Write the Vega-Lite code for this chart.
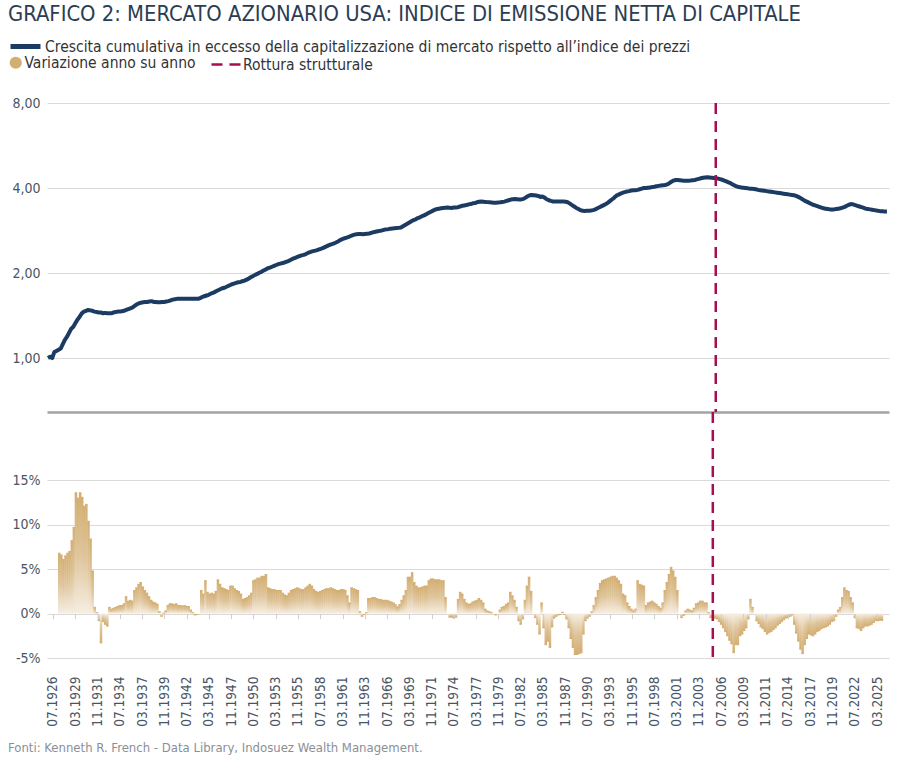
{
  "$schema": "https://vega.github.io/schema/vega-lite/v6.json",
  "background": "white",
  "padding": {"left": 8, "top": 4, "right": 11, "bottom": 6},
  "bounds": "flush",
  "spacing": 0,
  "title": {
    "text": "GRAFICO 2: MERCATO AZIONARIO USA: INDICE DI EMISSIONE NETTA DI CAPITALE",
    "anchor": "start",
    "frame": "bounds",
    "fontSize": 21.8,
    "fontWeight": "normal",
    "color": "#2b3d52",
    "offset": 3
  },
  "config": {
    "view": {"stroke": null},
    "font": "DejaVu Sans Condensed, Liberation Sans Narrow, sans-serif",
    "axis": {"labelColor": "#4a5563", "labelFontSize": 14},
    "legend": {"labelFontSize": 15.5, "labelColor": "#333333", "labelLimit": 0, "labelOffset": 3, "padding": 0}
  },
  "datasets": {
    "serie": [
      {"d":"1926-07","c":1.00},{"d":"1926-10","c":1.01},{"d":"1927-01","c":1.00},
      {"d":"1927-04","c":1.05,"v":6.8},{"d":"1927-07","c":1.06,"v":6.6},{"d":"1927-10","c":1.07,"v":6.1},
      {"d":"1928-01","c":1.08,"v":6.5},{"d":"1928-04","c":1.12,"v":6.8},{"d":"1928-07","c":1.16,"v":7.0},{"d":"1928-10","c":1.19,"v":8.2},
      {"d":"1929-01","c":1.23,"v":9.7},{"d":"1929-04","c":1.27,"v":13.6},{"d":"1929-07","c":1.29,"v":13.0},{"d":"1929-10","c":1.33,"v":13.6},
      {"d":"1930-01","c":1.37,"v":13.1},{"d":"1930-04","c":1.40,"v":12.1},{"d":"1930-07","c":1.44,"v":12.3},{"d":"1930-10","c":1.46,"v":10.4},
      {"d":"1931-01","c":1.47,"v":8.4},{"d":"1931-04","c":1.48,"v":4.8},{"d":"1931-07","c":1.475,"v":0.7},{"d":"1931-10","c":1.47,"v":0.1},
      {"d":"1932-01","c":1.46,"v":-0.8},{"d":"1932-04","c":1.455,"v":-3.3},{"d":"1932-07","c":1.45,"v":-0.9},{"d":"1932-10","c":1.45,"v":-1.2},
      {"d":"1933-01","c":1.44,"v":-1.4},{"d":"1933-04","c":1.445,"v":0.7},{"d":"1933-07","c":1.44,"v":0.5},{"d":"1933-10","c":1.44,"v":0.6},
      {"d":"1934-01","c":1.44,"v":0.7},{"d":"1934-04","c":1.45,"v":0.8},{"d":"1934-07","c":1.455,"v":0.9},{"d":"1934-10","c":1.46,"v":0.9},
      {"d":"1935-01","c":1.46,"v":1.1},{"d":"1935-04","c":1.465,"v":1.9},{"d":"1935-07","c":1.47,"v":1.4},{"d":"1935-10","c":1.48,"v":1.5},
      {"d":"1936-01","c":1.49,"v":1.4},{"d":"1936-04","c":1.50,"v":2.6},{"d":"1936-07","c":1.51,"v":2.9},{"d":"1936-10","c":1.53,"v":3.3},
      {"d":"1937-01","c":1.55,"v":3.5},{"d":"1937-04","c":1.56,"v":3.0},{"d":"1937-07","c":1.57,"v":2.6},{"d":"1937-10","c":1.575,"v":2.3},
      {"d":"1938-01","c":1.58,"v":1.9},{"d":"1938-04","c":1.58,"v":1.5},{"d":"1938-07","c":1.585,"v":1.3},{"d":"1938-10","c":1.59,"v":1.2},
      {"d":"1939-01","c":1.58,"v":1.05},{"d":"1939-04","c":1.58,"v":0.2},{"d":"1939-07","c":1.575,"v":-0.3},{"d":"1939-10","c":1.575,"v":0.05},
      {"d":"1940-01","c":1.58,"v":0.3},{"d":"1940-04","c":1.58,"v":0.9},{"d":"1940-07","c":1.585,"v":1.1},{"d":"1940-10","c":1.59,"v":1.1},
      {"d":"1941-01","c":1.60,"v":1.0},{"d":"1941-04","c":1.61,"v":1.1},{"d":"1941-07","c":1.615,"v":0.9},{"d":"1941-10","c":1.62,"v":0.9},
      {"d":"1942-01","c":1.62,"v":0.85},{"d":"1942-04","c":1.62,"v":0.9},{"d":"1942-07","c":1.62,"v":0.8},{"d":"1942-10","c":1.62,"v":0.8},
      {"d":"1943-01","c":1.62,"v":0.4},{"d":"1943-04","c":1.62,"v":0.1},{"d":"1943-07","c":1.62,"v":-0.15},{"d":"1943-10","c":1.62,"v":-0.1},
      {"d":"1944-01","c":1.62,"v":0.0},{"d":"1944-04","c":1.62,"v":2.6},{"d":"1944-07","c":1.63,"v":2.2},{"d":"1944-10","c":1.645,"v":3.7},
      {"d":"1945-01","c":1.655,"v":2.4},{"d":"1945-04","c":1.665,"v":2.2},{"d":"1945-07","c":1.675,"v":2.3},{"d":"1945-10","c":1.69,"v":2.2},
      {"d":"1946-01","c":1.70,"v":2.5},{"d":"1946-04","c":1.715,"v":3.8},{"d":"1946-07","c":1.73,"v":3.3},{"d":"1946-10","c":1.745,"v":2.9},
      {"d":"1947-01","c":1.76,"v":2.8},{"d":"1947-04","c":1.77,"v":2.7},{"d":"1947-07","c":1.78,"v":2.6},{"d":"1947-10","c":1.795,"v":3.1},
      {"d":"1948-01","c":1.81,"v":3.1},{"d":"1948-04","c":1.825,"v":2.8},{"d":"1948-07","c":1.835,"v":2.6},{"d":"1948-10","c":1.845,"v":2.5},
      {"d":"1949-01","c":1.855,"v":2.2},{"d":"1949-04","c":1.86,"v":1.6},{"d":"1949-07","c":1.87,"v":1.7},{"d":"1949-10","c":1.88,"v":1.8},
      {"d":"1950-01","c":1.895,"v":2.0},{"d":"1950-04","c":1.91,"v":2.3},{"d":"1950-07","c":1.935,"v":3.7},{"d":"1950-10","c":1.95,"v":3.8},
      {"d":"1951-01","c":1.97,"v":4.0},{"d":"1951-04","c":1.985,"v":4.0},{"d":"1951-07","c":2.005,"v":4.2},{"d":"1951-10","c":2.02,"v":4.2},
      {"d":"1952-01","c":2.04,"v":4.4},{"d":"1952-04","c":2.06,"v":2.9},{"d":"1952-07","c":2.08,"v":2.8},{"d":"1952-10","c":2.09,"v":2.7},
      {"d":"1953-01","c":2.105,"v":2.7},{"d":"1953-04","c":2.12,"v":2.6},{"d":"1953-07","c":2.135,"v":2.6},{"d":"1953-10","c":2.15,"v":2.6},
      {"d":"1954-01","c":2.16,"v":2.3},{"d":"1954-04","c":2.17,"v":2.1},{"d":"1954-07","c":2.18,"v":2.0},{"d":"1954-10","c":2.195,"v":2.3},
      {"d":"1955-01","c":2.21,"v":2.6},{"d":"1955-04","c":2.23,"v":2.7},{"d":"1955-07","c":2.25,"v":2.8},{"d":"1955-10","c":2.265,"v":2.9},
      {"d":"1956-01","c":2.28,"v":2.8},{"d":"1956-04","c":2.295,"v":2.7},{"d":"1956-07","c":2.31,"v":2.7},{"d":"1956-10","c":2.32,"v":2.9},
      {"d":"1957-01","c":2.335,"v":3.1},{"d":"1957-04","c":2.355,"v":3.3},{"d":"1957-07","c":2.37,"v":3.1},{"d":"1957-10","c":2.385,"v":2.7},
      {"d":"1958-01","c":2.395,"v":2.5},{"d":"1958-04","c":2.405,"v":2.4},{"d":"1958-07","c":2.42,"v":2.5},{"d":"1958-10","c":2.435,"v":2.6},
      {"d":"1959-01","c":2.45,"v":2.7},{"d":"1959-04","c":2.47,"v":2.8},{"d":"1959-07","c":2.49,"v":2.8},{"d":"1959-10","c":2.51,"v":2.9},
      {"d":"1960-01","c":2.525,"v":2.8},{"d":"1960-04","c":2.54,"v":2.7},{"d":"1960-07","c":2.56,"v":2.6},{"d":"1960-10","c":2.58,"v":2.6},
      {"d":"1961-01","c":2.61,"v":2.7},{"d":"1961-04","c":2.63,"v":2.7},{"d":"1961-07","c":2.65,"v":2.6},{"d":"1961-10","c":2.665,"v":2.0},
      {"d":"1962-01","c":2.68,"v":1.2},{"d":"1962-04","c":2.70,"v":2.9},{"d":"1962-07","c":2.72,"v":2.8},{"d":"1962-10","c":2.735,"v":2.7},
      {"d":"1963-01","c":2.745,"v":2.6},{"d":"1963-04","c":2.75,"v":0.2},{"d":"1963-07","c":2.75,"v":-0.3},{"d":"1963-10","c":2.745,"v":-0.1},
      {"d":"1964-01","c":2.75,"v":0.1},{"d":"1964-04","c":2.755,"v":1.7},{"d":"1964-07","c":2.76,"v":1.7},{"d":"1964-10","c":2.775,"v":1.8},
      {"d":"1965-01","c":2.79,"v":1.8},{"d":"1965-04","c":2.80,"v":1.7},{"d":"1965-07","c":2.81,"v":1.6},{"d":"1965-10","c":2.82,"v":1.6},
      {"d":"1966-01","c":2.83,"v":1.5},{"d":"1966-04","c":2.845,"v":1.5},{"d":"1966-07","c":2.855,"v":1.5},{"d":"1966-10","c":2.86,"v":1.4},
      {"d":"1967-01","c":2.87,"v":1.3},{"d":"1967-04","c":2.875,"v":1.2},{"d":"1967-07","c":2.88,"v":1.0},{"d":"1967-10","c":2.885,"v":0.75},
      {"d":"1968-01","c":2.89,"v":1.0},{"d":"1968-04","c":2.90,"v":1.5},{"d":"1968-07","c":2.93,"v":2.0},{"d":"1968-10","c":2.96,"v":2.6},
      {"d":"1969-01","c":2.99,"v":4.1},{"d":"1969-04","c":3.02,"v":4.1},{"d":"1969-07","c":3.05,"v":4.6},{"d":"1969-10","c":3.08,"v":3.5},
      {"d":"1970-01","c":3.10,"v":3.1},{"d":"1970-04","c":3.13,"v":2.9},{"d":"1970-07","c":3.15,"v":2.9},{"d":"1970-10","c":3.18,"v":3.0},
      {"d":"1971-01","c":3.20,"v":3.1},{"d":"1971-04","c":3.23,"v":3.1},{"d":"1971-07","c":3.26,"v":3.7},{"d":"1971-10","c":3.29,"v":3.9},
      {"d":"1972-01","c":3.32,"v":3.9},{"d":"1972-04","c":3.35,"v":3.8},{"d":"1972-07","c":3.37,"v":3.8},{"d":"1972-10","c":3.38,"v":3.8},
      {"d":"1973-01","c":3.39,"v":3.7},{"d":"1973-04","c":3.40,"v":3.7},{"d":"1973-07","c":3.405,"v":1.8},{"d":"1973-10","c":3.41,"v":0.0},
      {"d":"1974-01","c":3.405,"v":-0.4},{"d":"1974-04","c":3.40,"v":-0.4},{"d":"1974-07","c":3.41,"v":-0.5},{"d":"1974-10","c":3.415,"v":-0.4},
      {"d":"1975-01","c":3.42,"v":1.6},{"d":"1975-04","c":3.44,"v":2.4},{"d":"1975-07","c":3.46,"v":2.2},{"d":"1975-10","c":3.47,"v":1.6},
      {"d":"1976-01","c":3.48,"v":1.2},{"d":"1976-04","c":3.50,"v":1.05},{"d":"1976-07","c":3.51,"v":1.1},{"d":"1976-10","c":3.53,"v":1.3},
      {"d":"1977-01","c":3.54,"v":1.4},{"d":"1977-04","c":3.56,"v":1.5},{"d":"1977-07","c":3.575,"v":1.7},{"d":"1977-10","c":3.58,"v":1.5},
      {"d":"1978-01","c":3.575,"v":1.2},{"d":"1978-04","c":3.57,"v":0.5},{"d":"1978-07","c":3.565,"v":0.3},{"d":"1978-10","c":3.56,"v":0.2},
      {"d":"1979-01","c":3.555,"v":0.1},{"d":"1979-04","c":3.55,"v":0.0},{"d":"1979-07","c":3.55,"v":-0.15},{"d":"1979-10","c":3.555,"v":0.0},
      {"d":"1980-01","c":3.56,"v":0.4},{"d":"1980-04","c":3.57,"v":0.7},{"d":"1980-07","c":3.58,"v":0.8},{"d":"1980-10","c":3.60,"v":1.05},
      {"d":"1981-01","c":3.62,"v":1.2},{"d":"1981-04","c":3.64,"v":2.4},{"d":"1981-07","c":3.65,"v":2.0},{"d":"1981-10","c":3.655,"v":1.5},
      {"d":"1982-01","c":3.65,"v":0.7},{"d":"1982-04","c":3.64,"v":-0.8},{"d":"1982-07","c":3.645,"v":-1.2},{"d":"1982-10","c":3.66,"v":-0.6},
      {"d":"1983-01","c":3.70,"v":1.5},{"d":"1983-04","c":3.74,"v":3.1},{"d":"1983-07","c":3.77,"v":4.1},{"d":"1983-10","c":3.775,"v":2.5},
      {"d":"1984-01","c":3.77,"v":0.0},{"d":"1984-04","c":3.76,"v":-0.45},{"d":"1984-07","c":3.75,"v":-1.2},{"d":"1984-10","c":3.72,"v":-2.3},
      {"d":"1985-01","c":3.73,"v":1.2},{"d":"1985-04","c":3.70,"v":-1.6},{"d":"1985-07","c":3.65,"v":-3.5},{"d":"1985-10","c":3.62,"v":-3.1},
      {"d":"1986-01","c":3.60,"v":-3.8},{"d":"1986-04","c":3.585,"v":-1.5},{"d":"1986-07","c":3.58,"v":-0.5},{"d":"1986-10","c":3.58,"v":-0.3},
      {"d":"1987-01","c":3.58,"v":-0.15},{"d":"1987-04","c":3.585,"v":-0.1},{"d":"1987-07","c":3.58,"v":0.15},{"d":"1987-10","c":3.575,"v":-0.1},
      {"d":"1988-01","c":3.56,"v":-0.6},{"d":"1988-04","c":3.52,"v":-1.6},{"d":"1988-07","c":3.48,"v":-2.8},{"d":"1988-10","c":3.44,"v":-3.8},
      {"d":"1989-01","c":3.40,"v":-4.6},{"d":"1989-04","c":3.37,"v":-4.6},{"d":"1989-07","c":3.34,"v":-4.5},{"d":"1989-10","c":3.32,"v":-4.4},
      {"d":"1990-01","c":3.315,"v":-2.3},{"d":"1990-04","c":3.32,"v":-0.8},{"d":"1990-07","c":3.32,"v":-0.5},{"d":"1990-10","c":3.33,"v":-0.3},
      {"d":"1991-01","c":3.34,"v":0.2},{"d":"1991-04","c":3.36,"v":0.9},{"d":"1991-07","c":3.39,"v":1.8},{"d":"1991-10","c":3.42,"v":2.6},
      {"d":"1992-01","c":3.45,"v":3.4},{"d":"1992-04","c":3.48,"v":3.7},{"d":"1992-07","c":3.51,"v":3.8},{"d":"1992-10","c":3.55,"v":3.9},
      {"d":"1993-01","c":3.60,"v":4.0},{"d":"1993-04","c":3.65,"v":4.1},{"d":"1993-07","c":3.70,"v":4.2},{"d":"1993-10","c":3.76,"v":4.2},
      {"d":"1994-01","c":3.79,"v":4.0},{"d":"1994-04","c":3.82,"v":3.7},{"d":"1994-07","c":3.85,"v":3.3},{"d":"1994-10","c":3.87,"v":2.2},
      {"d":"1995-01","c":3.89,"v":2.0},{"d":"1995-04","c":3.90,"v":1.2},{"d":"1995-07","c":3.92,"v":0.8},{"d":"1995-10","c":3.93,"v":0.5},
      {"d":"1996-01","c":3.93,"v":0.3},{"d":"1996-04","c":3.94,"v":0.5},{"d":"1996-07","c":3.96,"v":3.7},{"d":"1996-10","c":3.98,"v":3.3},
      {"d":"1997-01","c":4.00,"v":3.2},{"d":"1997-04","c":4.00,"v":3.1},{"d":"1997-07","c":4.01,"v":0.9},{"d":"1997-10","c":4.02,"v":1.2},
      {"d":"1998-01","c":4.03,"v":1.3},{"d":"1998-04","c":4.04,"v":1.4},{"d":"1998-07","c":4.06,"v":1.2},{"d":"1998-10","c":4.07,"v":1.05},
      {"d":"1999-01","c":4.08,"v":0.8},{"d":"1999-04","c":4.09,"v":0.6},{"d":"1999-07","c":4.10,"v":1.2},{"d":"1999-10","c":4.12,"v":2.6},
      {"d":"2000-01","c":4.16,"v":3.5},{"d":"2000-04","c":4.21,"v":4.4},{"d":"2000-07","c":4.25,"v":5.2},{"d":"2000-10","c":4.27,"v":4.8},
      {"d":"2001-01","c":4.27,"v":4.1},{"d":"2001-04","c":4.26,"v":2.6},{"d":"2001-07","c":4.25,"v":0.0},{"d":"2001-10","c":4.24,"v":-0.45},
      {"d":"2002-01","c":4.24,"v":-0.2},{"d":"2002-04","c":4.245,"v":0.3},{"d":"2002-07","c":4.25,"v":0.5},{"d":"2002-10","c":4.26,"v":0.4},
      {"d":"2003-01","c":4.27,"v":0.3},{"d":"2003-04","c":4.29,"v":0.6},{"d":"2003-07","c":4.31,"v":1.1},{"d":"2003-10","c":4.33,"v":1.2},
      {"d":"2004-01","c":4.35,"v":1.4},{"d":"2004-04","c":4.36,"v":1.4},{"d":"2004-07","c":4.37,"v":1.2},{"d":"2004-10","c":4.36,"v":1.2},
      {"d":"2005-01","c":4.35,"v":0.1},{"d":"2005-04","c":4.34,"v":-0.45},{"d":"2005-07","c":4.33,"v":-0.3},{"d":"2005-10","c":4.32,"v":-0.5},
      {"d":"2006-01","c":4.30,"v":-0.6},{"d":"2006-04","c":4.28,"v":-0.9},{"d":"2006-07","c":4.25,"v":-1.2},{"d":"2006-10","c":4.22,"v":-1.6},
      {"d":"2007-01","c":4.19,"v":-2.0},{"d":"2007-04","c":4.16,"v":-2.5},{"d":"2007-07","c":4.12,"v":-3.0},{"d":"2007-10","c":4.08,"v":-3.4},
      {"d":"2008-01","c":4.05,"v":-4.4},{"d":"2008-04","c":4.03,"v":-3.5},{"d":"2008-07","c":4.02,"v":-3.5},{"d":"2008-10","c":4.01,"v":-2.5},
      {"d":"2009-01","c":4.00,"v":-2.3},{"d":"2009-04","c":3.99,"v":-1.9},{"d":"2009-07","c":3.98,"v":-1.6},{"d":"2009-10","c":3.98,"v":-0.6},
      {"d":"2010-01","c":3.97,"v":1.6},{"d":"2010-04","c":3.96,"v":0.7},{"d":"2010-07","c":3.94,"v":0.0},{"d":"2010-10","c":3.93,"v":-0.8},
      {"d":"2011-01","c":3.92,"v":-1.1},{"d":"2011-04","c":3.91,"v":-1.5},{"d":"2011-07","c":3.90,"v":-1.7},{"d":"2011-10","c":3.89,"v":-2.0},
      {"d":"2012-01","c":3.88,"v":-2.3},{"d":"2012-04","c":3.87,"v":-2.1},{"d":"2012-07","c":3.86,"v":-2.0},{"d":"2012-10","c":3.85,"v":-1.8},
      {"d":"2013-01","c":3.84,"v":-1.6},{"d":"2013-04","c":3.83,"v":-1.3},{"d":"2013-07","c":3.82,"v":-1.1},{"d":"2013-10","c":3.81,"v":-0.9},
      {"d":"2014-01","c":3.80,"v":-0.7},{"d":"2014-04","c":3.79,"v":-0.5},{"d":"2014-07","c":3.78,"v":-0.45},{"d":"2014-10","c":3.77,"v":-0.3},
      {"d":"2015-01","c":3.75,"v":-0.15},{"d":"2015-04","c":3.72,"v":-1.2},{"d":"2015-07","c":3.69,"v":-2.2},{"d":"2015-10","c":3.65,"v":-3.1},
      {"d":"2016-01","c":3.61,"v":-4.0},{"d":"2016-04","c":3.58,"v":-4.5},{"d":"2016-07","c":3.55,"v":-3.5},{"d":"2016-10","c":3.52,"v":-2.8},
      {"d":"2017-01","c":3.49,"v":-2.3},{"d":"2017-04","c":3.47,"v":-2.4},{"d":"2017-07","c":3.45,"v":-2.5},{"d":"2017-10","c":3.43,"v":-2.3},
      {"d":"2018-01","c":3.41,"v":-2.0},{"d":"2018-04","c":3.39,"v":-1.9},{"d":"2018-07","c":3.38,"v":-1.7},{"d":"2018-10","c":3.37,"v":-1.6},
      {"d":"2019-01","c":3.36,"v":-1.5},{"d":"2019-04","c":3.355,"v":-1.4},{"d":"2019-07","c":3.36,"v":-1.2},{"d":"2019-10","c":3.37,"v":-0.9},
      {"d":"2020-01","c":3.38,"v":-0.8},{"d":"2020-04","c":3.39,"v":-0.3},{"d":"2020-07","c":3.41,"v":0.4},{"d":"2020-10","c":3.43,"v":0.7},
      {"d":"2021-01","c":3.46,"v":1.8},{"d":"2021-04","c":3.49,"v":2.9},{"d":"2021-07","c":3.51,"v":2.6},{"d":"2021-10","c":3.50,"v":2.5},
      {"d":"2022-01","c":3.48,"v":1.8},{"d":"2022-04","c":3.46,"v":1.2},{"d":"2022-07","c":3.44,"v":-0.45},{"d":"2022-10","c":3.42,"v":-1.6},
      {"d":"2023-01","c":3.40,"v":-1.7},{"d":"2023-04","c":3.38,"v":-1.9},{"d":"2023-07","c":3.37,"v":-1.6},{"d":"2023-10","c":3.36,"v":-1.4},
      {"d":"2024-01","c":3.35,"v":-1.4},{"d":"2024-04","c":3.34,"v":-1.3},{"d":"2024-07","c":3.33,"v":-1.2},{"d":"2024-10","c":3.32,"v":-1.0},
      {"d":"2025-01","c":3.31,"v":-0.8},{"d":"2025-04","c":3.31,"v":-0.8},{"d":"2025-07","c":3.30,"v":-0.75},{"d":"2025-10","c":3.30,"v":-0.75}
    ],
    "rottura": [{"d": "2005-07"}]
  },
  "vconcat": [
    {
      "width": 842,
      "height": 309,
      "layer": [
        {
          "data": {"name": "serie"},
          "mark": {"type": "line", "strokeWidth": 4, "strokeJoin": "round"},
          "encoding": {
            "x": {
              "field": "d", "type": "temporal",
              "scale": {"type": "utc", "domain": [{"year": 1926, "month": 5, "date": 20, "utc": true}, {"year": 2025, "month": 12, "date": 29, "utc": true}]},
              "axis": {"labels": false, "ticks": false, "grid": false, "domain": true, "domainColor": "#a3a3a3", "domainWidth": 2.5, "title": null}
            },
            "y": {
              "field": "c", "type": "quantitative",
              "scale": {"type": "log", "domain": [0.644, 8], "nice": false},
              "axis": {
                "values": [1, 2, 4, 8],
                "labelExpr": "replace(format(datum.value, '.2f'), '.', ',')",
                "title": null, "domain": false, "ticks": false,
                "grid": true, "gridColor": "#dadada", "gridWidth": 1.2,
                "labelPadding": 7, "minExtent": 39, "maxExtent": 39
              }
            },
            "stroke": {
              "datum": "Crescita cumulativa in eccesso della capitalizzazione di mercato rispetto all’indice dei prezzi",
              "scale": {"range": ["#1c3b62"]},
              "legend": {
                "orient": "none", "legendX": -39, "legendY": -74, "title": null,
                "symbolType": "stroke", "symbolSize": 900, "symbolStrokeWidth": 5, "labelOffset": 2
              }
            }
          }
        },
        {
          "data": {"name": "rottura"},
          "mark": {"type": "rule", "stroke": "#a50f4f", "strokeWidth": 2.5},
          "encoding": {
            "x": {"field": "d", "type": "temporal"},
            "strokeDash": {
              "datum": "Rottura strutturale",
              "scale": {"range": [[11, 7]]},
              "legend": {
                "orient": "none", "legendX": 163, "legendY": -55, "title": null,
                "symbolType": "stroke", "symbolSize": 900, "symbolStrokeColor": "#a50f4f", "symbolStrokeWidth": 2.5, "labelOffset": 0
              }
            }
          }
        }
      ]
    },
    {
      "width": 842,
      "height": 246,
      "title": {
        "text": "Fonti: Kenneth R. French - Data Library, Indosuez Wealth Management.",
        "orient": "bottom", "anchor": "start", "frame": "bounds",
        "fontSize": 13, "fontWeight": "normal", "color": "#8a8f96", "offset": 16
      },
      "layer": [
        {
          "data": {"name": "serie"},
          "transform": [{"filter": "isValid(datum.v) && datum.v >= 0"}],
          "mark": {
            "type": "bar", "width": 2.5,
            "fill": {"gradient": "linear", "x1": 0, "y1": 0, "x2": 0, "y2": 1,
              "stops": [{"offset": 0, "color": "#d3ae72"}, {"offset": 0.5, "color": "#dfc59c"}, {"offset": 1, "color": "#f6eee2"}]}
          },
          "encoding": {
            "x": {
              "field": "d", "type": "temporal",
              "scale": {"type": "utc", "domain": [{"year": 1926, "month": 5, "date": 20, "utc": true}, {"year": 2025, "month": 12, "date": 29, "utc": true}]},
              "axis": {
                "orient": "bottom",
                "values": [
                  {"year": 1926, "month": 7, "utc": true}, {"year": 1929, "month": 3, "utc": true}, {"year": 1931, "month": 11, "utc": true},
                  {"year": 1934, "month": 7, "utc": true}, {"year": 1937, "month": 3, "utc": true}, {"year": 1939, "month": 11, "utc": true},
                  {"year": 1942, "month": 7, "utc": true}, {"year": 1945, "month": 3, "utc": true}, {"year": 1947, "month": 11, "utc": true},
                  {"year": 1950, "month": 7, "utc": true}, {"year": 1953, "month": 3, "utc": true}, {"year": 1955, "month": 11, "utc": true},
                  {"year": 1958, "month": 7, "utc": true}, {"year": 1961, "month": 3, "utc": true}, {"year": 1963, "month": 11, "utc": true},
                  {"year": 1966, "month": 7, "utc": true}, {"year": 1969, "month": 3, "utc": true}, {"year": 1971, "month": 11, "utc": true},
                  {"year": 1974, "month": 7, "utc": true}, {"year": 1977, "month": 3, "utc": true}, {"year": 1979, "month": 11, "utc": true},
                  {"year": 1982, "month": 7, "utc": true}, {"year": 1985, "month": 3, "utc": true}, {"year": 1987, "month": 11, "utc": true},
                  {"year": 1990, "month": 7, "utc": true}, {"year": 1993, "month": 3, "utc": true}, {"year": 1995, "month": 11, "utc": true},
                  {"year": 1998, "month": 7, "utc": true}, {"year": 2001, "month": 3, "utc": true}, {"year": 2003, "month": 11, "utc": true},
                  {"year": 2006, "month": 7, "utc": true}, {"year": 2009, "month": 3, "utc": true}, {"year": 2011, "month": 11, "utc": true},
                  {"year": 2014, "month": 7, "utc": true}, {"year": 2017, "month": 3, "utc": true}, {"year": 2019, "month": 11, "utc": true},
                  {"year": 2022, "month": 7, "utc": true}, {"year": 2025, "month": 3, "utc": true}
                ],
                "format": "%m.%Y", "labelAngle": -90, "labelPadding": 18, "labelFontSize": 13.5,
                "labelOverlap": false, "labelFlush": false, "labelBound": false,
                "domain": false, "ticks": false, "grid": false, "title": null
              }
            },
            "y": {
              "field": "v", "type": "quantitative",
              "scale": {"domain": [-5, 22.7], "nice": false, "zero": false},
              "axis": {
                "values": [-5, 0, 5, 10, 15],
                "labelExpr": "datum.value + '%'",
                "title": null, "domain": false, "ticks": false,
                "grid": true, "gridColor": "#dadada", "gridWidth": 1.2,
                "labelPadding": 7, "minExtent": 39, "maxExtent": 39
              }
            }
          }
        },
        {
          "data": {"name": "serie"},
          "transform": [{"filter": "isValid(datum.v) && datum.v < 0"}],
          "mark": {
            "type": "bar", "width": 2.5,
            "fill": {"gradient": "linear", "x1": 0, "y1": 0, "x2": 0, "y2": 1,
              "stops": [{"offset": 0, "color": "#f6eee2"}, {"offset": 0.5, "color": "#dfc59c"}, {"offset": 1, "color": "#d3ae72"}]}
          },
          "encoding": {
            "x": {
              "field": "d", "type": "temporal",
              "axis": {
                "orient": "bottom",
                "values": [
                  {"year": 1926, "month": 7, "utc": true}, {"year": 1929, "month": 3, "utc": true}, {"year": 1931, "month": 11, "utc": true},
                  {"year": 1934, "month": 7, "utc": true}, {"year": 1937, "month": 3, "utc": true}, {"year": 1939, "month": 11, "utc": true},
                  {"year": 1942, "month": 7, "utc": true}, {"year": 1945, "month": 3, "utc": true}, {"year": 1947, "month": 11, "utc": true},
                  {"year": 1950, "month": 7, "utc": true}, {"year": 1953, "month": 3, "utc": true}, {"year": 1955, "month": 11, "utc": true},
                  {"year": 1958, "month": 7, "utc": true}, {"year": 1961, "month": 3, "utc": true}, {"year": 1963, "month": 11, "utc": true},
                  {"year": 1966, "month": 7, "utc": true}, {"year": 1969, "month": 3, "utc": true}, {"year": 1971, "month": 11, "utc": true},
                  {"year": 1974, "month": 7, "utc": true}, {"year": 1977, "month": 3, "utc": true}, {"year": 1979, "month": 11, "utc": true},
                  {"year": 1982, "month": 7, "utc": true}, {"year": 1985, "month": 3, "utc": true}, {"year": 1987, "month": 11, "utc": true},
                  {"year": 1990, "month": 7, "utc": true}, {"year": 1993, "month": 3, "utc": true}, {"year": 1995, "month": 11, "utc": true},
                  {"year": 1998, "month": 7, "utc": true}, {"year": 2001, "month": 3, "utc": true}, {"year": 2003, "month": 11, "utc": true},
                  {"year": 2006, "month": 7, "utc": true}, {"year": 2009, "month": 3, "utc": true}, {"year": 2011, "month": 11, "utc": true},
                  {"year": 2014, "month": 7, "utc": true}, {"year": 2017, "month": 3, "utc": true}, {"year": 2019, "month": 11, "utc": true},
                  {"year": 2022, "month": 7, "utc": true}, {"year": 2025, "month": 3, "utc": true}
                ],
                "labels": false, "ticks": true, "tickSize": 5, "tickColor": "#cfcfcf", "tickWidth": 1,
                "domain": false, "grid": false, "title": null, "offset": -44.4, "zindex": 1
              }
            },
            "y": {"field": "v", "type": "quantitative"}
          }
        },
        {
          "data": {"name": "serie"},
          "transform": [{"filter": "isValid(datum.v) && datum.v != 0"}],
          "mark": {"type": "tick", "orient": "horizontal", "size": 2.5, "thickness": 1, "color": "#d3ae72"},
          "encoding": {
            "x": {"field": "d", "type": "temporal", "axis": null},
            "y": {"field": "v", "type": "quantitative"},
            "opacity": {
              "datum": "Variazione anno su anno",
              "scale": {"range": [1]},
              "legend": {
                "orient": "none", "legendX": -39, "legendY": -48, "title": null,
                "symbolType": "circle", "symbolSize": 150, "symbolFillColor": "#d6b57e", "symbolStrokeWidth": 0, "labelOffset": 1
              }
            }
          }
        },
        {
          "data": {"name": "rottura"},
          "mark": {"type": "rule", "stroke": "#a50f4f", "strokeWidth": 2.5},
          "encoding": {
            "x": {"field": "d", "type": "temporal", "axis": null},
            "strokeDash": {"datum": "Rottura strutturale"}
          }
        }
      ],
      "resolve": {"axis": {"x": "independent"}}
    }
  ]
}
